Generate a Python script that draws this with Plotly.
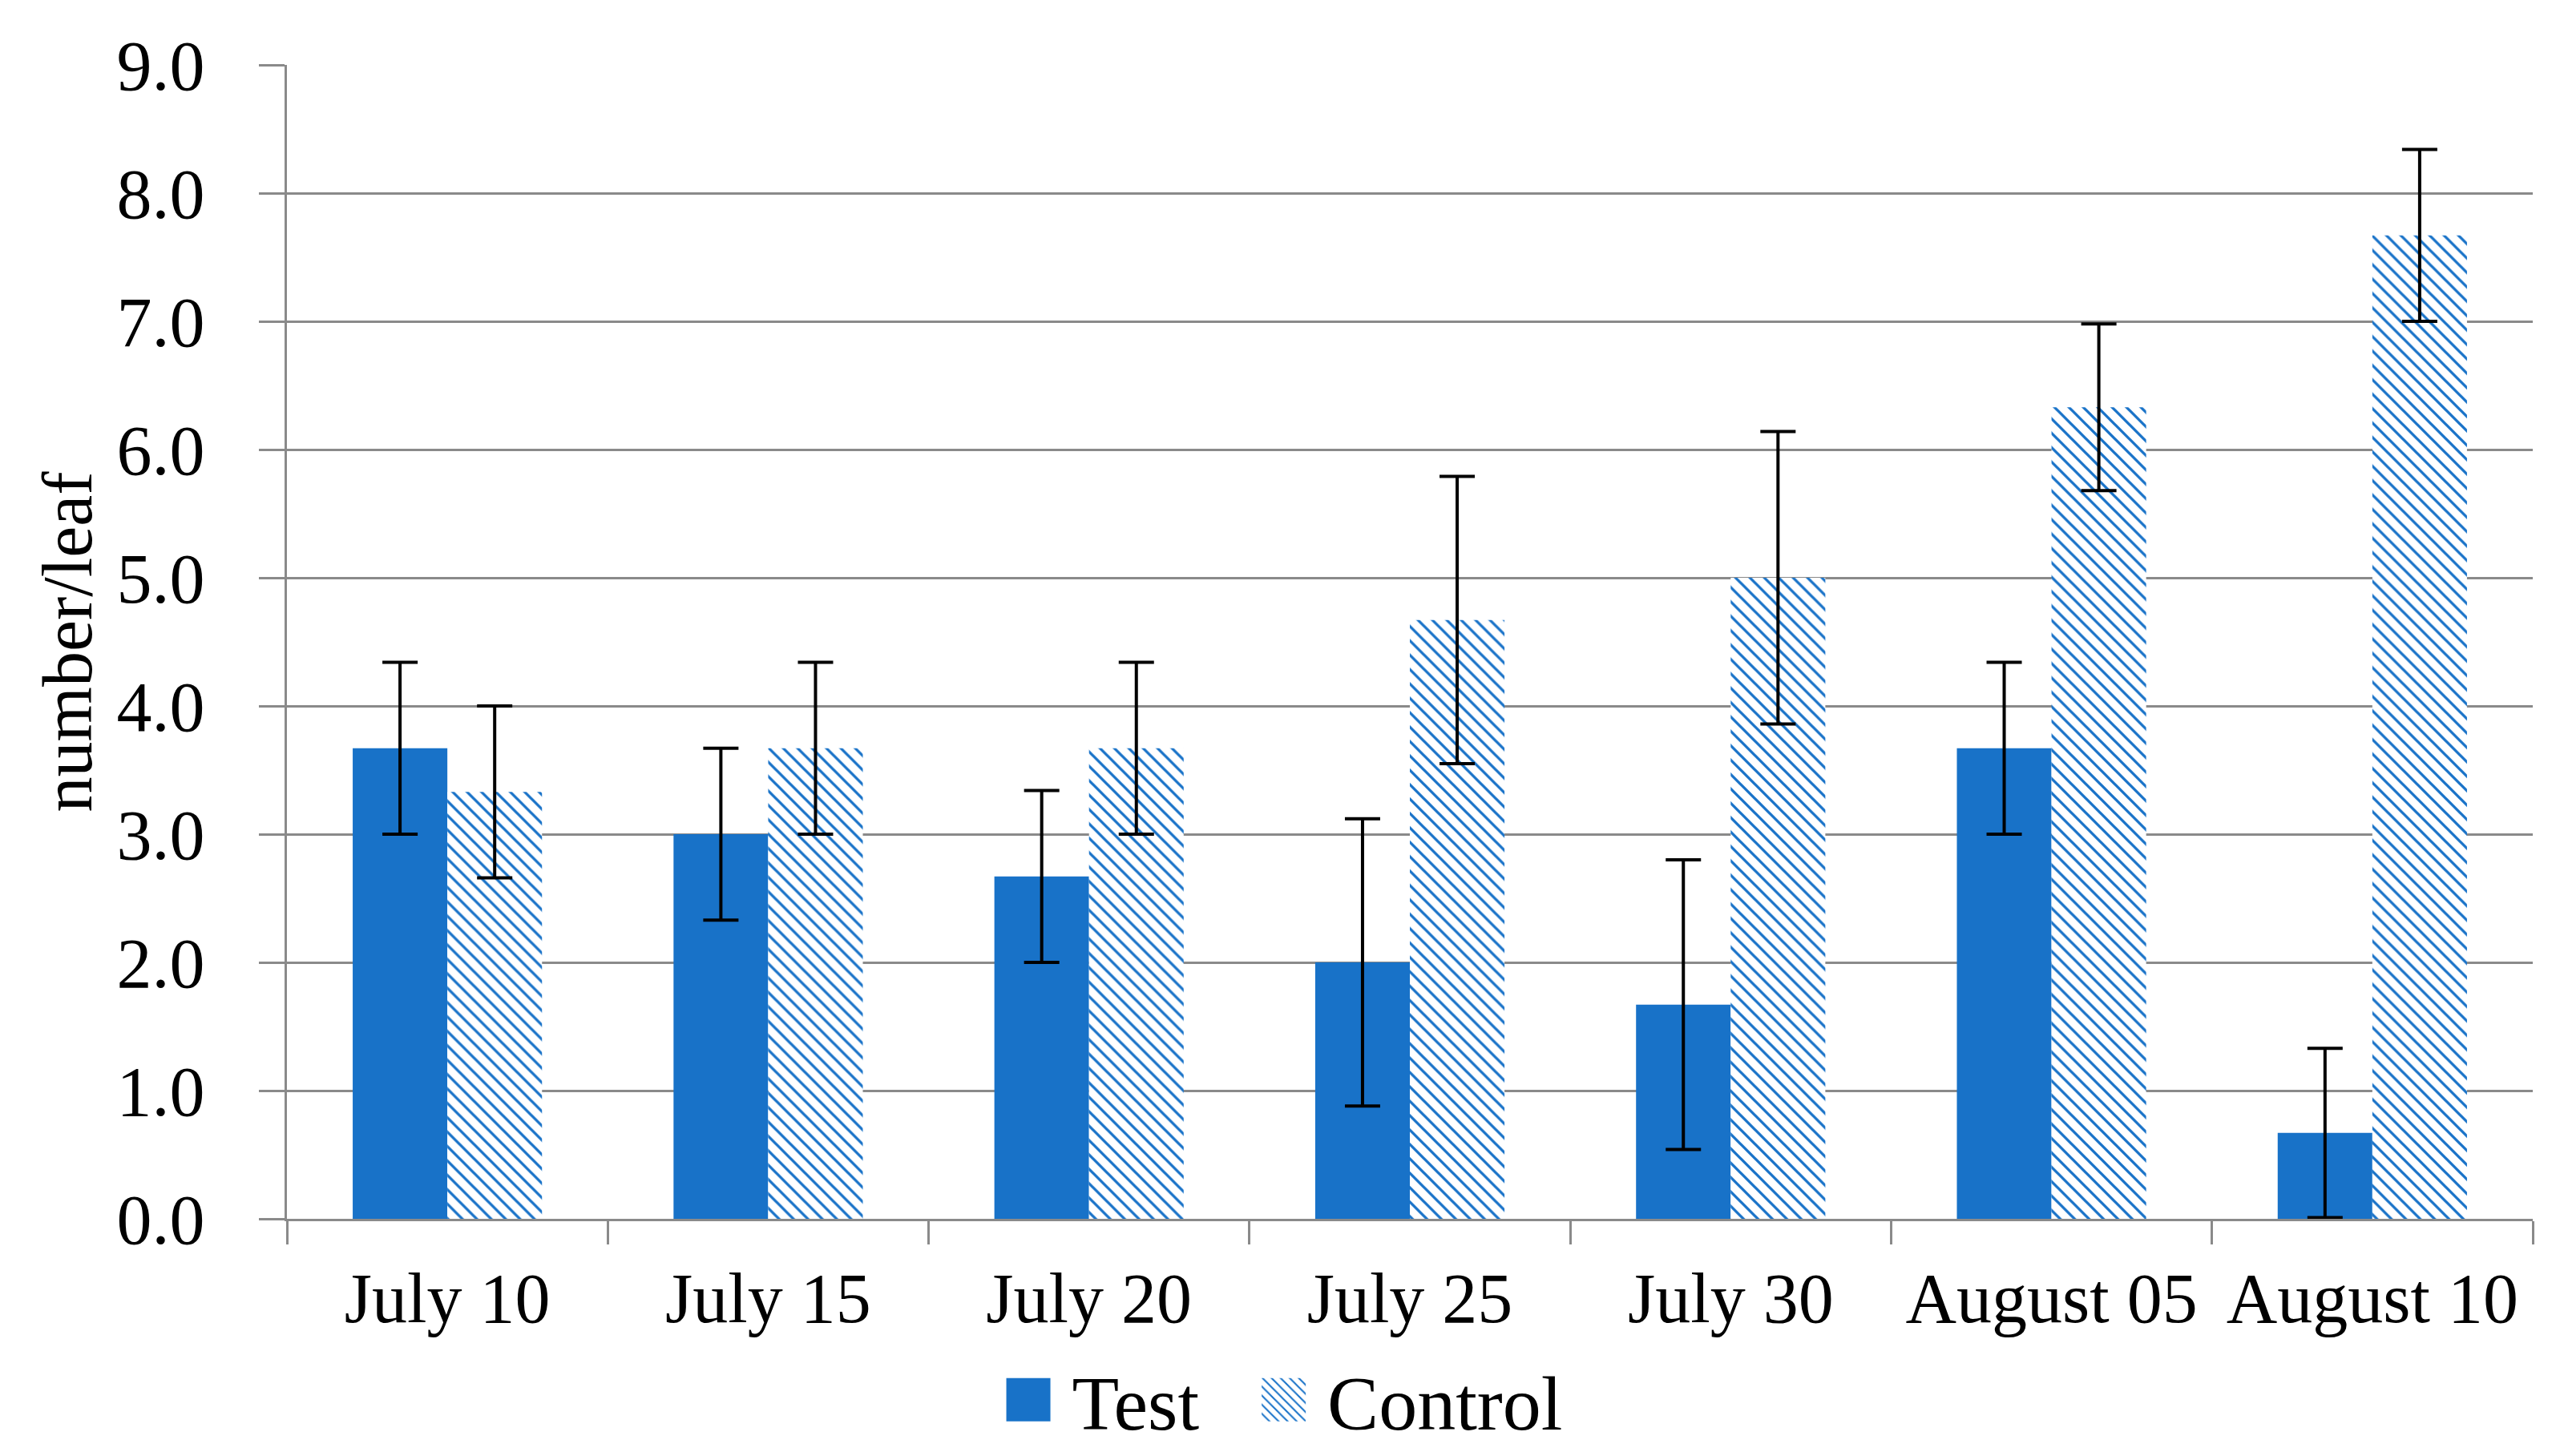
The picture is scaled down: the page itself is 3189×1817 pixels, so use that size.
import plotly.graph_objects as go

categories = ["July 10", "July 15", "July 20", "July 25", "July 30", "August 05", "August 10"]
test_values = [3.67, 3.00, 2.67, 2.00, 1.67, 3.67, 0.67]
test_errors = [0.67, 0.67, 0.67, 1.12, 1.13, 0.67, 0.66]
control_values = [3.33, 3.67, 3.67, 4.67, 5.00, 6.33, 7.67]
control_errors = [0.67, 0.67, 0.67, 1.12, 1.14, 0.65, 0.67]
y_ticks = [0, 1, 2, 3, 4, 5, 6, 7, 8, 9]

BLUE = "#1872C8"
GRID = "#8A8A8A"
FONT = "Liberation Serif"
FS = 88

fig = go.Figure()
fig.add_trace(go.Bar(
    name="Test", x=categories, y=test_values,
    marker=dict(color=BLUE, line=dict(width=0)),
    error_y=dict(type="data", array=test_errors, visible=True,
                 color="black", thickness=4, width=22),
))
fig.add_trace(go.Bar(
    name="Control", x=categories, y=control_values,
    marker=dict(color="white", line=dict(width=0),
                pattern=dict(shape="\\", fgcolor=BLUE, bgcolor="white",
                             size=12.7, solidity=0.26, fgopacity=1)),
    error_y=dict(type="data", array=control_errors, visible=True,
                 color="black", thickness=4, width=22),
))

fig.update_layout(
    width=3189, height=1817,
    margin=dict(l=350, r=37, t=73, b=304),
    paper_bgcolor="white", plot_bgcolor="white",
    barmode="group", bargap=0.41, bargroupgap=0,
    font=dict(family=FONT, size=FS, color="black"),
    showlegend=True,
    legend=dict(orientation="h", xref="container", yref="container",
                x=0.5, xanchor="center", y=0.043, yanchor="middle",
                font=dict(family=FONT, size=96), bgcolor="rgba(0,0,0,0)"),
)
fig.update_xaxes(
    type="category", showline=True, linecolor=GRID, linewidth=3,
    ticks="outside", tickson="boundaries", ticklen=29, tickwidth=3, tickcolor=GRID,
    showgrid=False, tickfont=dict(family=FONT, size=FS), automargin=False,
    ticklabelstandoff=20,
)
fig.update_yaxes(
    range=[0, 9], tickvals=y_ticks, tickformat=".1f",
    showline=True, linecolor=GRID, linewidth=3,
    ticks="outside", ticklen=32, tickwidth=3, tickcolor=GRID,
    showgrid=True, gridcolor=GRID, gridwidth=3, zeroline=False,
    tickfont=dict(family=FONT, size=FS), automargin=False,
    ticklabelstandoff=50,
    title=dict(text="number/leaf", font=dict(family=FONT, size=FS), standoff=2),
)

post_js = r"""
var gd = document.getElementById('{plot_id}');
function fixLegend(){
  var leg = gd.querySelector('g.legend');
  if(!leg) return;
  var sb = leg.querySelector('g.scrollbox');
  if (sb) sb.removeAttribute('clip-path');
  var items = leg.querySelectorAll('g.traces');
  var x = 0, right = 0;
  var re = /translate\(\s*([-\d.e]+)[\s,]*([-\d.e]+)?\s*\)/;
  items.forEach(function(it){
    it.querySelectorAll('g.legendpoints path').forEach(function(p){
      p.setAttribute('d','M-7,27H-62V-27H-7Z');
    });
    var t = it.querySelector('text.legendtext');
    var tw = t ? t.getComputedTextLength() : 0;
    var m = re.exec(it.getAttribute('transform')||'');
    var y = (m && m[2]) ? parseFloat(m[2]) : 0;
    it.setAttribute('transform','translate('+x+','+y+')');
    right = x + 40 + tw;
    x += 40 + tw + 120;
  });
  var lm = re.exec(leg.getAttribute('transform')||'');
  var ly = (lm && lm[2]) ? parseFloat(lm[2]) : 0;
  var left = -42;
  var lx = 1594.5 - (left + right)/2;
  leg.setAttribute('transform','translate('+lx+','+ly+')');
}
fixLegend();
"""

fig.write_html("out.html", post_script=post_js)
